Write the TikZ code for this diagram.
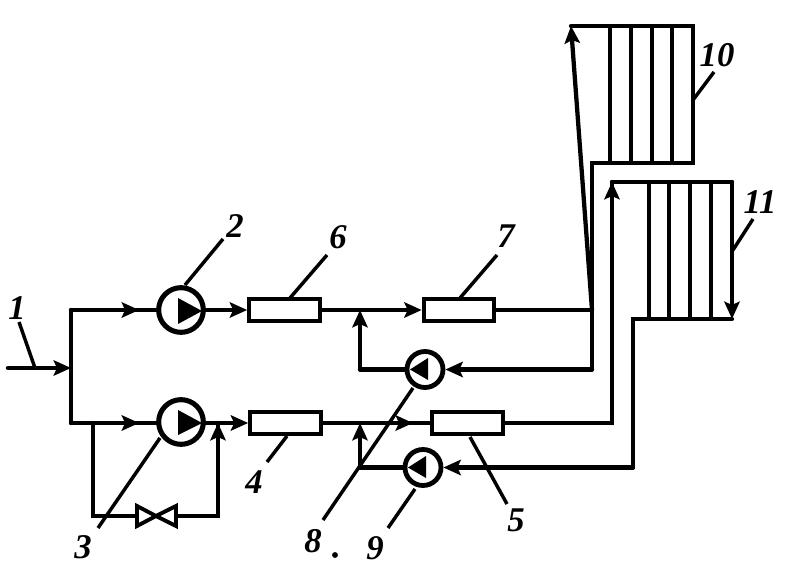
\documentclass[tikz,border=0pt]{standalone}
\usepackage{fontspec}
\setmainfont{Liberation Serif}
\usetikzlibrary{arrows.meta,decorations.markings}
\tikzset{
  pipetip/.tip={Stealth[length=13pt,width=11.5pt,inset=2.5pt]},
  pipe/.style={line width=3.2pt,line cap=round,line join=miter},
  flow/.style={pipe,-{pipetip}},
  midflow/.style={postaction={decorate,decoration={markings,mark=at position #1 with {\arrow{pipetip}}}}},
  thinpipe/.style={line width=2.9pt,line cap=round,line join=miter},
  leader/.style={line width=2.6pt},
  pump/.style={circle,draw,fill=white,line width=3.8pt,minimum size=33.5pt,inner sep=0pt,outer sep=1.9pt},
  smallpump/.style={circle,draw,fill=white,line width=3.6pt,minimum size=27pt,inner sep=0pt,outer sep=1.8pt},
  heater/.style={rectangle,draw,fill=white,line width=3pt,minimum width=53pt,minimum height=16pt,inner sep=0pt,outer sep=1.5pt},
  lab/.style={inner sep=0pt,font=\fontsize{26}{26}\selectfont\bfseries\itshape},
  valvetri/.style={draw,fill=white,line width=2.9pt,line join=miter},
}
\begin{document}
\begin{tikzpicture}[x=0.75pt,y=-0.75pt]
\useasboundingbox (0,0) rectangle (797,588);
% equipment
\node[pump] (p2) at (181,310) {};
\node[pump] (p3) at (181,422) {};
\node[smallpump] (p8) at (425,369.5) {};
\node[smallpump] (p9) at (423,467.5) {};
\node[heater] (h6) at (284.5,310) {};
\node[heater] (h4) at (285.5,423) {};
\node[heater] (h7) at (459,310) {};
\node[heater,minimum height=17pt] (h5) at (467.5,423) {};
% junctions
\coordinate (in) at (8,368);
\coordinate (bus) at (71,368);
\coordinate (busT) at (71,310);
\coordinate (busB) at (71,423);
\coordinate (byL) at (93,423);
\coordinate (byLB) at (93,516);
\coordinate (byR) at (218,423);
\coordinate (byRB) at (218,516);
\coordinate (vL) at (137,516);
\coordinate (vM) at (156,516);
\coordinate (vR) at (176,516);
\coordinate (j7) at (360,310);
\coordinate (j8) at (360,369.5);
\coordinate (j5) at (360,423);
\coordinate (j9) at (360,467.5);
\coordinate (r10) at (592,310);
\coordinate (r10b) at (592,369.5);
\coordinate (r10c) at (592,163);
\coordinate (t10L) at (571,26);
\coordinate (t10R) at (693,26);
\coordinate (b10R) at (693,163);
\coordinate (c11) at (612,423);
\coordinate (t11L) at (612,182);
\coordinate (t11R) at (732,182);
\coordinate (b11R) at (732,319);
\coordinate (b11L) at (633,319);
\coordinate (c11b) at (633,467.5);
% pump impellers
\fill (178,298) -- (202,311) -- (178,324) -- cycle;
\fill (178,410) -- (202,423) -- (178,435) -- cycle;
\fill (428,358) -- (410,369.5) -- (428,380) -- cycle;
\fill (426,456) -- (408,467.5) -- (426,478) -- cycle;
% piping
\draw[flow] (in) -- (bus);
\draw[pipe] (busT) -- (busB);
\draw[pipe,midflow=0.8] (busT) -- (p2.west);
\draw[pipe,midflow=0.8] (busB) -- (p3.west |- busB);
\draw[flow] (p2.east) -- (h6.west);
\draw[flow] (p3.east |- h4) -- (h4.west);
\draw[pipe] (byL) -- (byLB) -- (vL);
\draw[pipe] (vR) -- (byRB) -- (byR);
\draw[flow] (byRB) -- (byR);
\draw[valvetri] (vL) ++(0,-10) -- (vM) -- ++(-19,10) -- cycle;
\draw[valvetri] (vR) ++(0,-10) -- (vM) -- ++(20,10) -- cycle;
\draw[flow] (h6.east) -- (h7.west);
\draw[thinpipe] (h7.east) -- (r10);
\draw[flow] (j8) -- (j7);
\draw[pipe] (p8.west |- j8) -- (j8);
\draw[flow] (r10b) -- (p8.east);
\draw[pipe] (r10b) -- (r10c) -- (b10R) -- (t10R) -- (t10L);
\draw[flow] (r10) -- (t10L);
\draw[thinpipe,midflow=0.84] (h4.east) -- (h5.west);
\draw[pipe] (h5.east) -- (c11) -- (t11L);
\draw[flow] (c11) -- (t11L);
\draw[pipe] (t11L) -- (t11R);
\draw[flow] (t11R) -- (b11R);
\draw[pipe] (b11R) -- (b11L) -- (c11b);
\draw[flow] (c11b) -- (p9.east);
\draw[pipe] (p9.west) -- (j9);
\draw[flow] (j9) -- (j5);
% radiator tubes
\foreach \x in {610,631,652,672} \draw[thinpipe] (\x,26) -- (\x,163);
\foreach \x in {649,669,690,711} \draw[thinpipe] (\x,182) -- (\x,319);
% labels
\node[lab] (l1) at (17,308) {1};
\node[lab] (l2) at (235,226) {2};
\node[lab] (l3) at (83,547) {3};
\node[lab] (l4) at (254,482) {4};
\node[lab] (l5) at (516,520) {5};
\node[lab] (l6) at (338,237) {6};
\node[lab] (l7) at (506,236) {7};
\node[lab] (l8) at (313,541) {8};
\node[lab] (l9) at (375,548) {9};
\node[lab] (l10) at (717,55) {10};
\node[lab] (l11) at (760,202) {11};
\fill (335,555) circle (2.2pt);
% leaders
\coordinate (a1) at (19,322); \coordinate (b1) at (35,368);
\coordinate (a2) at (223,239); \coordinate (b2) at (185,285);
\coordinate (a3) at (98,528); \coordinate (b3) at (160,438);
\coordinate (a4) at (267,462); \coordinate (b4) at (287,436);
\coordinate (a5) at (507,504); \coordinate (b5) at (470,437);
\coordinate (a6) at (327,255); \coordinate (b6) at (290,298);
\coordinate (a7) at (497,255); \coordinate (b7) at (460,298);
\coordinate (a8) at (323,520); \coordinate (b8) at (413,388);
\coordinate (a9) at (388,528); \coordinate (b9) at (415,489);
\coordinate (a10) at (714,72); \coordinate (b10) at (693,100);
\coordinate (a11) at (753,219); \coordinate (b11) at (733,250);
\foreach \n in {1,...,11} \draw[leader] (a\n) -- (b\n);
\end{tikzpicture}
\end{document}
